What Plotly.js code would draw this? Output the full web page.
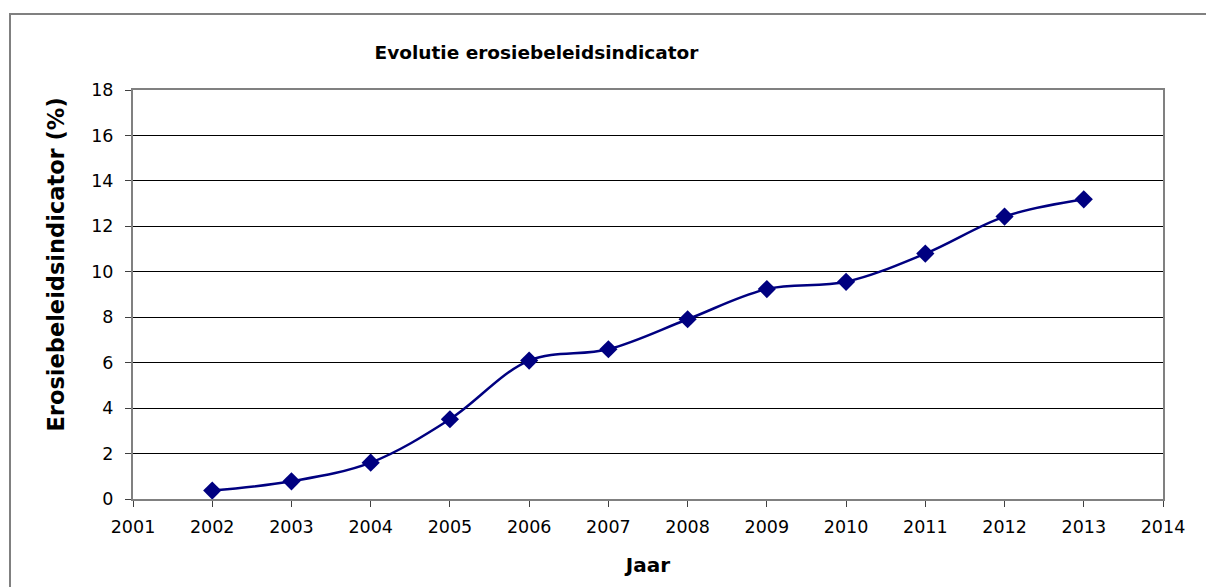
<!DOCTYPE html>
<html>
<head>
<meta charset="utf-8">
<script src="https://cdn.plot.ly/plotly-3.0.1.min.js"></script>
<style>html,body{margin:0;padding:0;background:#fff;}#chart{width:1206px;height:587px;}</style>
</head>
<body>
<div id="chart"></div>
<script>
const years = [2002, 2003, 2004, 2005, 2006, 2007, 2008, 2009, 2010, 2011, 2012, 2013];
const values = [0.37, 0.78, 1.60, 3.51, 6.09, 6.59, 7.91, 9.24, 9.56, 10.80, 12.43, 13.19];
const xTicks = [2001, 2002, 2003, 2004, 2005, 2006, 2007, 2008, 2009, 2010, 2011, 2012, 2013, 2014];
const yTicks = [0, 2, 4, 6, 8, 10, 12, 14, 16, 18];
const chartTitle = 'Evolutie erosiebeleidsindicator';
const xTitle = 'Jaar';
const yTitle = 'Erosiebeleidsindicator (%)';

const font = '"DejaVu Sans", Verdana, sans-serif';
const L = 133, R = 43, T = 90, B = 88, W = 1206, H = 587;
const pw = W - L - R, ph = H - T - B;

const trace = {
  x: years, y: values, type: 'scatter', mode: 'lines+markers',
  line: {color: '#000080', width: 2.5, shape: 'spline', smoothing: 1},
  marker: {symbol: 'diamond', size: 14, color: '#000080'},
  hoverinfo: 'none'
};

const layout = {
  width: W, height: H,
  margin: {l: L, r: R, t: T, b: B},
  paper_bgcolor: '#fff', plot_bgcolor: '#fff',
  showlegend: false,
  font: {family: font, color: '#000', size: 17.5},
  title: {text: '<b>' + chartTitle + '</b>', x: 536.5 / W, xref: 'container', xanchor: 'center',
          y: 1 - 53 / H, yref: 'container', yanchor: 'middle',
          font: {family: font, size: 18.5, color: '#000'}},
  xaxis: {
    range: [2001, 2014], tickvals: xTicks, ticktext: xTicks.map(String),
    showgrid: false, zeroline: false,
    showline: true, linecolor: '#808080', linewidth: 2, mirror: true,
    ticks: 'outside', ticklen: 6, tickcolor: '#404040', tickwidth: 1,
    ticklabelstandoff: 5,
    tickfont: {family: font, size: 17.5, color: '#000'},
    title: {text: '<b>' + xTitle + '</b>', font: {family: font, size: 20, color: '#000'}, standoff: 22}
  },
  yaxis: {
    range: [0, 18], tickvals: yTicks, ticktext: yTicks.map(String),
    showgrid: true, gridcolor: '#000', gridwidth: 1, zeroline: false,
    showline: true, linecolor: '#808080', linewidth: 2, mirror: true,
    ticks: 'outside', ticklen: 6, tickcolor: '#404040', tickwidth: 1,
    ticklabelstandoff: 8,
    tickfont: {family: font, size: 17.5, color: '#000'}
  },
  annotations: [{
    text: '<b>' + yTitle + '</b>', textangle: -90, showarrow: false,
    xref: 'paper', yref: 'paper',
    x: (55 - L) / pw, y: (H - B - 264.5) / ph, xanchor: 'center', yanchor: 'middle',
    font: {family: font, size: 22.5, color: '#000'}
  }],
  shapes: [{
    type: 'rect', xref: 'paper', yref: 'paper',
    x0: (10 - L) / pw, x1: 1.2, y0: -0.3, y1: (H - B - 14) / ph,
    line: {color: '#808080', width: 2}, fillcolor: 'rgba(0,0,0,0)', layer: 'below'
  }]
};

Plotly.newPlot('chart', [trace], layout, {staticPlot: true, displayModeBar: false});
</script>
</body>
</html>
